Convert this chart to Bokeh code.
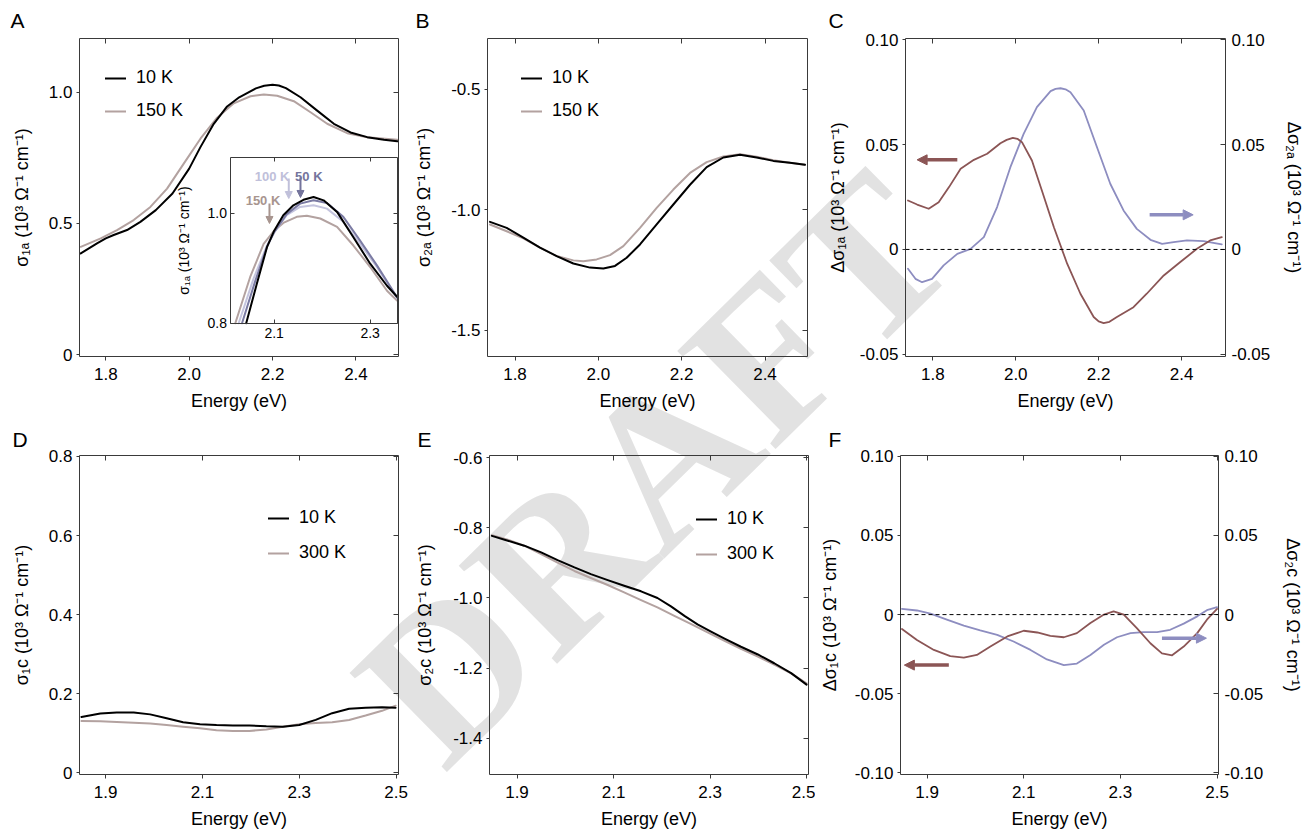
import math
from bokeh.plotting import figure
from bokeh.models import (Range1d, LinearAxis, FixedTicker, CustomJSTickFormatter, Title, Div,
                          Label, Legend, LegendItem, Span, Arrow, NormalHead)
from bokeh.layouts import row, column
from bokeh.embed import file_html
from bokeh.resources import INLINE

FONT = "Liberation Sans"
BLACK = "#000000"
WARM = "#b3a2a0"
BROWN = "#8b5555"
BLUE = "#8d8dc0"
LAV = "#c4c4de"
SLATE = "#7b7ba3"
AXIS = "#3a3a3a"

# ---------------- data ----------------
# Panel A: sigma_1a
a_x_10K = [1.74, 1.779, 1.80, 1.819, 1.851, 1.883, 1.92, 1.96, 2.00, 2.027, 2.059, 2.091, 2.12,
           2.16, 2.18, 2.20, 2.215, 2.232, 2.267, 2.307, 2.347, 2.387, 2.427, 2.467, 2.499]
a_y_10K = [0.386, 0.424, 0.443, 0.456, 0.475, 0.506, 0.551, 0.614, 0.709, 0.791, 0.880, 0.946, 0.981,
           1.015, 1.025, 1.029, 1.026, 1.016, 0.981, 0.930, 0.880, 0.847, 0.829, 0.819, 0.813]
a_x_150K = [1.74, 1.788, 1.827, 1.867, 1.907, 1.947, 1.987, 2.027, 2.067, 2.107, 2.147, 2.179, 2.211,
            2.251, 2.291, 2.331, 2.379, 2.427, 2.499]
a_y_150K = [0.411, 0.443, 0.475, 0.513, 0.563, 0.633, 0.728, 0.823, 0.903, 0.958, 0.985, 0.992, 0.987,
            0.966, 0.924, 0.880, 0.844, 0.829, 0.819]

# Inset of panel A
in_x_10K = [2.0417, 2.064, 2.085, 2.10, 2.119, 2.14, 2.161, 2.182, 2.203, 2.231, 2.265, 2.30, 2.335, 2.356]
in_y_10K = [0.80, 0.872, 0.938, 0.968, 0.996, 1.014, 1.024, 1.029, 1.023, 1.002, 0.956, 0.908, 0.868, 0.848]
in_x_150K = [2.019, 2.05, 2.078, 2.10, 2.119, 2.147, 2.168, 2.196, 2.231, 2.265, 2.30, 2.335, 2.356]
in_y_150K = [0.80, 0.884, 0.944, 0.968, 0.982, 0.993, 0.995, 0.990, 0.975, 0.941, 0.902, 0.859, 0.841]
in_x_100K = [2.026, 2.057, 2.085, 2.10, 2.126, 2.154, 2.182, 2.21, 2.244, 2.279, 2.314, 2.356]
in_y_100K = [0.80, 0.881, 0.941, 0.965, 0.996, 1.011, 1.014, 1.008, 0.984, 0.944, 0.902, 0.845]
in_x_50K = [2.033, 2.06, 2.085, 2.10, 2.126, 2.154, 2.182, 2.21, 2.244, 2.279, 2.314, 2.356]
in_y_50K = [0.80, 0.875, 0.939, 0.965, 0.998, 1.017, 1.023, 1.018, 0.993, 0.950, 0.905, 0.847]

# Panel B: sigma_2a
b_x_10K = [1.74, 1.78, 1.82, 1.86, 1.90, 1.94, 1.98, 2.012, 2.04, 2.068, 2.10, 2.14, 2.18, 2.22,
           2.26, 2.30, 2.34, 2.38, 2.42, 2.46, 2.496]
b_y_10K = [-1.051, -1.076, -1.117, -1.158, -1.193, -1.224, -1.241, -1.245, -1.234, -1.200, -1.145,
           -1.062, -0.979, -0.897, -0.824, -0.784, -0.773, -0.784, -0.798, -0.806, -0.814]
b_x_150K = [1.74, 1.78, 1.82, 1.86, 1.90, 1.94, 1.964, 1.996, 2.028, 2.06, 2.10, 2.14, 2.18, 2.22,
            2.26, 2.30, 2.34, 2.38, 2.42, 2.46, 2.496]
b_y_150K = [-1.062, -1.090, -1.120, -1.158, -1.193, -1.211, -1.215, -1.207, -1.189, -1.152, -1.076,
            -0.993, -0.917, -0.848, -0.803, -0.780, -0.770, -0.781, -0.795, -0.806, -0.814]

# Panel C: delta sigma (a axis)
c_x_d1 = [1.74, 1.762, 1.79, 1.814, 1.839, 1.867, 1.899, 1.931, 1.963, 1.978, 1.993, 2.004, 2.015,
          2.039, 2.063, 2.092, 2.124, 2.156, 2.188, 2.20, 2.212, 2.226, 2.244, 2.284, 2.316, 2.357,
          2.397, 2.437, 2.469, 2.497]
c_y_d1 = [0.0233, 0.0214, 0.0194, 0.0225, 0.0297, 0.0384, 0.0427, 0.0456, 0.0506, 0.0522, 0.0532,
          0.0527, 0.0511, 0.0424, 0.0281, 0.0106, -0.0068, -0.0211, -0.0322, -0.0343, -0.0351,
          -0.0345, -0.0322, -0.0275, -0.0211, -0.0124, -0.0060, 0.0003, 0.0043, 0.0059]
c_x_d2 = [1.74, 1.758, 1.774, 1.798, 1.826, 1.859, 1.891, 1.923, 1.955, 1.987, 2.019, 2.051, 2.084,
          2.096, 2.108, 2.12, 2.132, 2.164, 2.196, 2.228, 2.26, 2.292, 2.325, 2.353, 2.381, 2.413,
          2.453, 2.497]
c_y_d2 = [-0.0092, -0.0140, -0.0156, -0.0140, -0.0076, -0.0021, 0.0003, 0.0059, 0.0202, 0.0392,
          0.0551, 0.0678, 0.0754, 0.0765, 0.0768, 0.0763, 0.0749, 0.0662, 0.0487, 0.0313, 0.0186,
          0.0098, 0.0046, 0.0027, 0.0035, 0.0043, 0.0040, 0.0024]

# Panel D: sigma_1c
d_x = [1.85, 1.889, 1.923, 1.958, 1.992, 2.026, 2.06, 2.095, 2.129, 2.163, 2.197, 2.232, 2.266,
       2.30, 2.334, 2.368, 2.403, 2.437, 2.471, 2.499]
d_y_10K = [0.1415, 0.150, 0.153, 0.153, 0.148, 0.138, 0.128, 0.123, 0.121, 0.120, 0.120, 0.118,
           0.117, 0.121, 0.134, 0.151, 0.162, 0.165, 0.166, 0.165]
d_y_300K = [0.131, 0.1305, 0.129, 0.127, 0.125, 0.121, 0.117, 0.113, 0.108, 0.106, 0.106, 0.110,
            0.117, 0.123, 0.126, 0.128, 0.134, 0.145, 0.157, 0.170]

# Panel E: sigma_2c
e_x_10K = [1.848, 1.881, 1.915, 1.95, 1.984, 2.019, 2.053, 2.088, 2.122, 2.157, 2.191, 2.219, 2.247,
           2.274, 2.302, 2.33, 2.364, 2.399, 2.433, 2.468, 2.50]
e_y_10K = [-0.823, -0.837, -0.851, -0.870, -0.892, -0.913, -0.932, -0.949, -0.965, -0.981, -1.000,
           -1.024, -1.051, -1.075, -1.096, -1.116, -1.139, -1.161, -1.186, -1.214, -1.247]
e_x_300K = [1.848, 1.881, 1.915, 1.95, 1.984, 2.019, 2.053, 2.088, 2.122, 2.157, 2.191, 2.226, 2.26,
            2.295, 2.33, 2.364, 2.399, 2.433, 2.468, 2.50]
e_y_300K = [-0.821, -0.834, -0.851, -0.875, -0.899, -0.923, -0.943, -0.963, -0.984, -1.006, -1.027,
            -1.051, -1.074, -1.098, -1.122, -1.145, -1.167, -1.190, -1.215, -1.243]

# Panel F: delta sigma (c axis)
f_x_d1 = [1.848, 1.879, 1.914, 1.948, 1.976, 2.003, 2.031, 2.066, 2.10, 2.128, 2.155, 2.183, 2.21,
          2.238, 2.266, 2.286, 2.307, 2.334, 2.362, 2.386, 2.407, 2.431, 2.459, 2.479, 2.50]
f_y_d1 = [-0.0091, -0.0160, -0.0223, -0.0262, -0.0272, -0.0255, -0.0202, -0.0138, -0.0102, -0.0113,
          -0.0134, -0.0143, -0.0117, -0.0053, 0.0000, 0.0021, 0.0000, -0.0085, -0.0181, -0.0245,
          -0.0257, -0.0202, -0.0117, -0.0032, 0.0036]
f_x_d2 = [1.848, 1.879, 1.907, 1.941, 1.976, 2.01, 2.045, 2.079, 2.114, 2.148, 2.183, 2.21, 2.238,
          2.266, 2.293, 2.321, 2.348, 2.376, 2.403, 2.431, 2.459, 2.479, 2.50]
f_y_d2 = [0.0036, 0.0026, 0.0006, -0.0032, -0.0070, -0.0100, -0.0128, -0.0170, -0.0223, -0.0283,
          -0.0319, -0.0309, -0.0255, -0.0191, -0.0143, -0.0117, -0.0111, -0.0111, -0.0096, -0.0057,
          -0.0011, 0.0028, 0.0047]

# tick values and labels
ticks_x_top = [1.8, 2.0, 2.2, 2.4]
labels_x_top = ["1.8", "2.0", "2.2", "2.4"]
ticks_x_bot = [1.9, 2.1, 2.3, 2.5]
labels_x_bot = ["1.9", "2.1", "2.3", "2.5"]
ticks_a = [0.0, 0.5, 1.0]
labels_a = ["0", "0.5", "1.0"]
ticks_b = [-1.5, -1.0, -0.5]
labels_b = ["-1.5", "-1.0", "-0.5"]
ticks_c = [-0.05, 0.0, 0.05, 0.10]
labels_c = ["-0.05", "0", "0.05", "0.10"]
ticks_d = [0.0, 0.2, 0.4, 0.6, 0.8]
labels_d = ["0", "0.2", "0.4", "0.6", "0.8"]
ticks_e = [-1.4, -1.2, -1.0, -0.8, -0.6]
labels_e = ["-1.4", "-1.2", "-1.0", "-0.8", "-0.6"]
ticks_f = [-0.10, -0.05, 0.0, 0.05, 0.10]
labels_f = ["-0.10", "-0.05", "0", "0.05", "0.10"]
ticks_in_x = [2.1, 2.3]
labels_in_x = ["2.1", "2.3"]
ticks_in_y = [0.8, 1.0]
labels_in_y = ["0.8", "1.0"]

# axis titles
UNIT = " (10³ Ω⁻¹ cm⁻¹)"
ylab_a = "σ₁ₐ" + UNIT
ylab_b = "σ₂ₐ" + UNIT
ylab_c_left = "Δσ₁ₐ" + UNIT
ylab_c_right = "Δσ₂ₐ" + UNIT
ylab_d = "σ₁c" + UNIT
ylab_e = "σ₂c" + UNIT
ylab_f_left = "Δσ₁c" + UNIT
ylab_f_right = "Δσ₂c" + UNIT
xlab = "Energy (eV)"

# arrows (data coordinates)
c_arrow_left = (1.859, 1.762, 0.0427)
c_arrow_right = (2.323, 2.428, 0.0165)
f_arrow_left = (1.945, 1.853, -0.0319)
f_arrow_right = (2.386, 2.478, -0.0149)


# ---------------- helpers ----------------
def make_fig(xr, yr, fw, fh, bl, br, bt, bb, letter, fl_abs, letter_x, tstand):
    p = figure(x_range=Range1d(*xr), y_range=Range1d(*yr), frame_width=fw, frame_height=fh,
               min_border_left=bl, min_border_right=br, min_border_top=bt, min_border_bottom=bb,
               toolbar_location=None, output_backend="svg", tools="")
    p.grid.visible = False
    p.outline_line_color = None
    p.background_fill_alpha = 0
    p.border_fill_alpha = 0
    p.title = Title(text=letter, align="left", offset=letter_x - fl_abs, text_font=FONT,
                    text_font_size="21px", text_font_style="normal", text_color="black",
                    standoff=tstand)
    return p


def style_axis(ax, ticks, labels, tin, tout, size="17px", standoff=5):
    ax.ticker = FixedTicker(ticks=ticks)
    if labels is None:
        ax.formatter = CustomJSTickFormatter(code="return ''")
    else:
        ax.major_label_overrides = {t: l for t, l in zip(ticks, labels)}
    ax.major_tick_in = tin
    ax.major_tick_out = tout
    ax.minor_tick_line_color = None
    ax.axis_line_color = AXIS
    ax.major_tick_line_color = AXIS
    ax.major_label_text_font = FONT
    ax.major_label_text_font_size = size
    ax.major_label_text_color = "black"
    ax.major_label_standoff = standoff


def title_axis(ax, text, standoff, size="18px"):
    ax.axis_label = text
    ax.axis_label_text_font = FONT
    ax.axis_label_text_font_size = size
    ax.axis_label_text_font_style = "normal"
    ax.axis_label_text_color = "black"
    ax.axis_label_standoff = standoff


def frame_axes(p, xt, xl, yt, yl, ylab, ystand, rlab=None, rstand=10):
    bx = p.xaxis[0]
    style_axis(bx, xt, xl, 0, 4, standoff=7)
    title_axis(bx, xlab, 8)
    ly = p.yaxis[0]
    style_axis(ly, yt, yl, 0, 3, standoff=4)
    title_axis(ly, ylab, ystand)
    top = LinearAxis()
    style_axis(top, xt, None, 5, 0, standoff=0)
    p.add_layout(top, "above")
    rgt = LinearAxis()
    if rlab is not None:
        style_axis(rgt, yt, yl, 5, 0, standoff=6)
        title_axis(rgt, rlab, rstand)
    else:
        style_axis(rgt, yt, None, 5, 0, standoff=0)
    p.add_layout(rgt, "right")


def curve(p, x, y, color, width=2, **kw):
    return p.line(x, y, line_color=color, line_width=width, line_join="round", line_cap="round", **kw)


def legend(p, items, vx, vy, spacing):
    lg = Legend(items=[LegendItem(label=l, renderers=[r]) for l, r in items],
                location=(vx, vy), label_text_font=FONT, label_text_font_size="18px",
                label_text_color="black", glyph_width=21, glyph_height=20, label_height=20,
                label_standoff=10, spacing=spacing, padding=0, margin=0, border_line_color=None,
                background_fill_alpha=0)
    p.add_layout(lg)


# ---------------- panel A ----------------
pA = make_fig((1.737, 2.502), (-0.007, 1.205), 319, 318, 79, 12, 38, 64, "A", 79, 10, 13)
frame_axes(pA, ticks_x_top, labels_x_top, ticks_a, labels_a, ylab_a, 14)
rA150 = curve(pA, a_x_150K, a_y_150K, WARM)
rA10 = curve(pA, a_x_10K, a_y_10K, BLACK)
legend(pA, [("10 K", rA10), ("150 K", rA150)], 26, 235, 12)

# inset (own ranges mapped onto a sub-box of panel A's frame)
pA.extra_x_ranges = {"ix": Range1d(1.6944, 2.3590)}
pA.extra_y_ranges = {"iy": Range1d(0.7396, 1.3167)}
ib = LinearAxis(x_range_name="ix", y_range_name="iy", fixed_location=0.8, bounds=(2.01, 2.356))
style_axis(ib, ticks_in_x, labels_in_x, 4, 0, size="14px", standoff=5)
pA.add_layout(ib, "below")
it = LinearAxis(x_range_name="ix", y_range_name="iy", fixed_location=1.10, bounds=(2.01, 2.356))
style_axis(it, ticks_in_x, None, 4, 0, size="14px", standoff=0)
pA.add_layout(it, "above")
il = LinearAxis(x_range_name="ix", y_range_name="iy", fixed_location=2.01, bounds=(0.8, 1.10))
style_axis(il, ticks_in_y, labels_in_y, 4, 0, size="14px", standoff=4)
title_axis(il, ylab_a, 12, size="14px")
pA.add_layout(il, "left")
ir = LinearAxis(x_range_name="ix", y_range_name="iy", fixed_location=2.356, bounds=(0.8, 1.10))
style_axis(ir, ticks_in_y, None, 4, 0, size="14px", standoff=0)
pA.add_layout(ir, "right")
curve(pA, in_x_150K, in_y_150K, WARM, x_range_name="ix", y_range_name="iy")
curve(pA, in_x_100K, in_y_100K, LAV, x_range_name="ix", y_range_name="iy")
curve(pA, in_x_50K, in_y_50K, SLATE, x_range_name="ix", y_range_name="iy")
curve(pA, in_x_10K, in_y_10K, BLACK, x_range_name="ix", y_range_name="iy")
for txt, col, lx, ly, axx, ay0, ay1 in [("150 K", "#a8958f", 2.0767, 1.0227, 2.0902, 1.0173, 0.9810),
                                         ("100 K", "#c0c0da", 2.0958, 1.0663, 2.1304, 1.0626, 1.0263),
                                         ("50 K", "#74749c", 2.1721, 1.0663, 2.1548, 1.0645, 1.0282)]:
    pA.add_layout(Label(text=txt, x=lx, y=ly, x_range_name="ix", y_range_name="iy",
                        text_font=FONT, text_font_size="13px", text_font_style="bold",
                        text_color=col, text_align="center", text_baseline="alphabetic"))
    pA.add_layout(Arrow(end=NormalHead(size=7, fill_color=col, line_color=col),
                        x_start=axx, y_start=ay0, x_end=axx, y_end=ay1,
                        x_range_name="ix", y_range_name="iy", line_color=col, line_width=2))

# ---------------- panel B ----------------
pB = make_fig((1.734, 2.502), (-1.61, -0.29), 320, 318, 77, 8, 38, 64, "B", 487, 415, 13)
frame_axes(pB, ticks_x_top, labels_x_top, ticks_b, labels_b, ylab_b, 14)
rB150 = curve(pB, b_x_150K, b_y_150K, WARM)
rB10 = curve(pB, b_x_10K, b_y_10K, BLACK)
legend(pB, [("10 K", rB10), ("150 K", rB150)], 34, 235, 12)

# ---------------- panel C ----------------
pC = make_fig((1.734, 2.506), (-0.051, 0.1005), 320, 318, 90, 91, 38, 64, "C", 905, 828, 13)
frame_axes(pC, ticks_x_top, labels_x_top, ticks_c, labels_c, ylab_c_left, 9,
           rlab=ylab_c_right, rstand=11)
pC.add_layout(Span(location=0, dimension="width", line_color="black", line_dash="4 3", line_width=1))
curve(pC, c_x_d2, c_y_d2, BLUE, 1.8)
curve(pC, c_x_d1, c_y_d1, BROWN, 1.8)
for (xs, xe, yv), col in [(c_arrow_left, BROWN), (c_arrow_right, BLUE)]:
    pC.add_layout(Arrow(end=NormalHead(size=10, fill_color=col, line_color=col),
                        x_start=xs, y_start=yv, x_end=xe, y_end=yv, line_color=col, line_width=3.5))

# ---------------- panel D ----------------
pD = make_fig((1.846, 2.505), (-0.004, 0.8025), 319, 319, 79, 12, 35, 59, "D", 79, 12, 10)
frame_axes(pD, ticks_x_bot, labels_x_bot, ticks_d, labels_d, ylab_d, 14)
rD300 = curve(pD, d_x, d_y_300K, WARM)
rD10 = curve(pD, d_x, d_y_10K, BLACK)
legend(pD, [("10 K", rD10), ("300 K", rD300)], 189, 211, 14)

# ---------------- panel E ----------------
pE = make_fig((1.843, 2.504), (-1.503, -0.594), 319, 319, 79, 7, 35, 59, "E", 489, 417, 10)
frame_axes(pE, ticks_x_bot, labels_x_bot, ticks_e, labels_e, ylab_e, 15)
rE300 = curve(pE, e_x_300K, e_y_300K, WARM)
rE10 = curve(pE, e_x_10K, e_y_10K, BLACK)
legend(pE, [("10 K", rE10), ("300 K", rE300)], 207, 210, 14)

# ---------------- panel F ----------------
pF = make_fig((1.845, 2.503), (-0.101, 0.1005), 318, 319, 85, 98, 35, 59, "F", 900, 828, 10)
frame_axes(pF, ticks_x_bot, labels_x_bot, ticks_f, labels_f, ylab_f_left, 12,
           rlab=ylab_f_right, rstand=17)
pF.add_layout(Span(location=0, dimension="width", line_color="black", line_dash="4 3", line_width=1))
curve(pF, f_x_d2, f_y_d2, BLUE, 1.8)
curve(pF, f_x_d1, f_y_d1, BROWN, 1.8)
for (xs, xe, yv), col in [(f_arrow_left, BROWN), (f_arrow_right, BLUE)]:
    pF.add_layout(Arrow(end=NormalHead(size=10, fill_color=col, line_color=col),
                        x_start=xs, y_start=yv, x_end=xe, y_end=yv, line_color=col, line_width=3.5))

# watermark behind the (transparent) figures
watermark = Div(text="DRAFT", width=820, height=250,
                styles={"position": "absolute", "left": "240px", "top": "338px",
                        "z-index": "-1", "pointer-events": "none",
                        "transform": "rotate(-44.5deg)",
                        "font-family": "Liberation Serif", "font-weight": "bold",
                        "font-size": "212px", "line-height": "250px", "text-align": "center",
                        "color": "#e2e2e2"})

layout = column(row(pA, pB, pC), row(pD, pE, pF), watermark)
open("out.html", "w").write(file_html(layout, INLINE))
